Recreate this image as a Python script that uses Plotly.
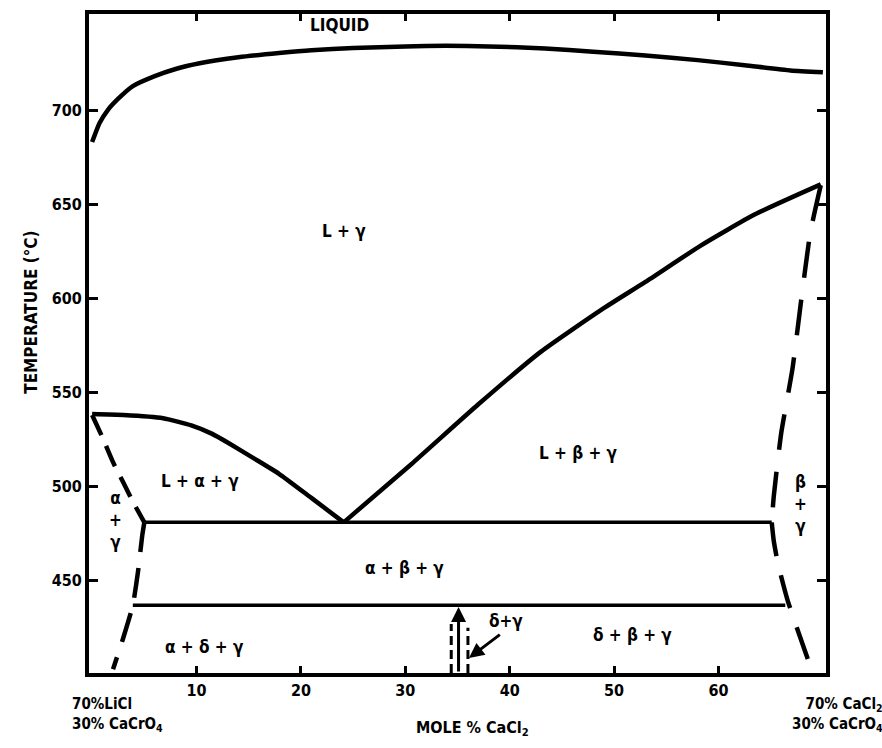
import plotly.graph_objects as go

# ---- data (mole % CaCl2, temperature degC) ----
liquidus_x = [0, 0.7, 1.5, 2.5, 3.9, 6, 8, 10.3, 14, 17.9, 21, 25, 30, 33.9, 38, 43.4, 48, 53, 58, 62.5, 66.9, 70]
liquidus_y = [683, 693, 700, 706, 712.7, 718, 721.8, 724.8, 728, 730.3, 731.8, 732.9, 733.8, 734.1, 733.8, 732.7, 731, 729, 726.5, 723.8, 721, 720]

beta_liq_x = [24.1, 30.6, 37.0, 43.0, 48.8, 53.0, 58.3, 63.5, 69.8]
beta_liq_y = [481, 512, 543.7, 571.7, 594, 608.7, 628, 644.6, 660.5]

alpha_liq_x = [0, 3, 6.8, 9.5, 11.5, 13.1, 15.5, 17.9, 21, 24.1]
alpha_liq_y = [538.5, 538, 536.3, 532.5, 528, 523, 515, 506.8, 494, 481]

eutectic_x = [5.0, 65.1]
eutectic_y = [481, 481]

lower_x = [3.9, 66.4]
lower_y = [437, 437]

left_up_x = [0, 1.0, 2.0, 3.0, 4.0, 5.0]
left_up_y = [538, 526, 513, 502, 491, 481]

left_low_x = [5.0, 4.8, 4.4, 3.9, 3.0, 2.0]
left_low_y = [481, 474, 455, 437, 420, 403]

right_up_x = [69.8, 68.8, 67.9, 67.1, 66.0, 65.3, 65.1]
right_up_y = [660, 635, 598, 563, 528, 495, 481]

right_low_x = [65.1, 65.3, 65.7, 66.6, 67.7, 68.9]
right_low_y = [481, 471, 459, 440, 422, 403]

delta_l_x = [34.4, 34.4]
delta_l_y = [401, 427]
delta_r_x = [36.0, 36.0]
delta_r_y = [401, 425]

x_ticks = [10, 20, 30, 40, 50, 60]
y_ticks = [450, 500, 550, 600, 650, 700]

region_labels = ["LIQUID", "L + γ", "L + α + γ", "L + β + γ", "α + β + γ", "α + δ + γ", "δ + β + γ"]
region_x = [23.7, 24.1, 10.3, 46.6, 29.9, 10.8, 51.8]
region_y = [745, 636, 503, 518, 456.6, 415, 421]

FONT = "DejaVu Sans Condensed, DejaVu Sans, sans-serif"
BLACK = "black"

fig = go.Figure()

def add_line(xs, ys, dash="solid", width=4.5):
    fig.add_trace(go.Scatter(x=xs, y=ys, mode="lines",
                             line=dict(color=BLACK, width=width, dash=dash, shape="spline", smoothing=0.5),
                             hoverinfo="skip", showlegend=False))

add_line(liquidus_x, liquidus_y)
add_line(beta_liq_x, beta_liq_y)
add_line(alpha_liq_x, alpha_liq_y)
add_line(eutectic_x, eutectic_y, width=3.5)
add_line(lower_x, lower_y, width=3.5)
add_line(left_up_x, left_up_y, dash="22px,12px")
add_line(left_low_x, left_low_y, dash="30px,16px")
add_line(right_up_x, right_up_y, dash="36px,22px")
add_line(right_low_x, right_low_y, dash="34px,20px")
add_line(delta_l_x, delta_l_y, dash="9px,5px", width=3)
add_line(delta_r_x, delta_r_y, dash="9px,5px", width=3)

annotations = []
for t, x, y in zip(region_labels, region_x, region_y):
    annotations.append(dict(x=x, y=y, text="<b>" + t + "</b>", showarrow=False,
                            font=dict(family=FONT, size=17, color=BLACK)))

# stacked two-phase labels
annotations.append(dict(x=2.2, y=482, text="<b>α<br>+<br>γ</b>", showarrow=False,
                        font=dict(family=FONT, size=17, color=BLACK)))
annotations.append(dict(x=67.9, y=491, text="<b>β<br>+<br>γ</b>", showarrow=False,
                        font=dict(family=FONT, size=17, color=BLACK)))

# delta + gamma label with arrow
annotations.append(dict(x=36.1, y=409, ax=39.2, ay=422, axref="x", ayref="y",
                        text="", showarrow=True, arrowhead=2, arrowsize=1, arrowwidth=3,
                        arrowcolor=BLACK))
annotations.append(dict(x=39.6, y=428.5, text="<b>δ+γ</b>", showarrow=False,
                        font=dict(family=FONT, size=17, color=BLACK)))
# vertical arrow
annotations.append(dict(x=35.1, y=436, ax=35.1, ay=401, axref="x", ayref="y",
                        text="", showarrow=True, arrowhead=2, arrowsize=1, arrowwidth=3,
                        arrowcolor=BLACK))

# axis composition end labels
annotations.append(dict(x=-0.026, y=-0.03, xref="paper", yref="paper", xanchor="left", yanchor="top",
                        text="<b>70%LiCl<br>30% CaCrO<sub>4</sub></b>", align="left", showarrow=False,
                        font=dict(family=FONT, size=15, color=BLACK)))
annotations.append(dict(x=1.08, y=-0.03, xref="paper", yref="paper", xanchor="right", yanchor="top",
                        text="<b>70% CaCl<sub>2</sub><br>30% CaCrO<sub>4</sub></b>", align="right", showarrow=False,
                        font=dict(family=FONT, size=15, color=BLACK)))
annotations.append(dict(x=0.52, y=-0.065, xref="paper", yref="paper", xanchor="center", yanchor="top",
                        text="<b>MOLE % CaCl<sub>2</sub></b>", showarrow=False,
                        font=dict(family=FONT, size=16, color=BLACK)))
annotations.append(dict(x=-0.096, y=0.547, xref="paper", yref="paper", textangle=-90,
                        text="<b>TEMPERATURE (°C)</b>", showarrow=False,
                        font=dict(family=FONT, size=17, color=BLACK)))

fig.update_layout(
    width=882, height=748,
    margin=dict(l=89, r=56, t=10, b=75),
    paper_bgcolor="white", plot_bgcolor="white",
    showlegend=False,
    annotations=annotations,
    xaxis=dict(range=[-0.3, 70.3], tickvals=x_ticks, ticks="inside", ticklen=7, tickwidth=3,
               tickcolor=BLACK, showline=True, linewidth=4, linecolor=BLACK, mirror="ticks",
               showgrid=False, zeroline=False,
               tickfont=dict(family=FONT, size=16, color=BLACK, weight="bold")),
    yaxis=dict(range=[401, 751], tickvals=y_ticks, ticks="inside", ticklen=9, tickwidth=2.5,
               tickcolor=BLACK, showline=True, linewidth=4, linecolor=BLACK, mirror="ticks",
               showgrid=False, zeroline=False,
               tickfont=dict(family=FONT, size=16, color=BLACK, weight="bold")),
)

fig.write_html("out.html")
